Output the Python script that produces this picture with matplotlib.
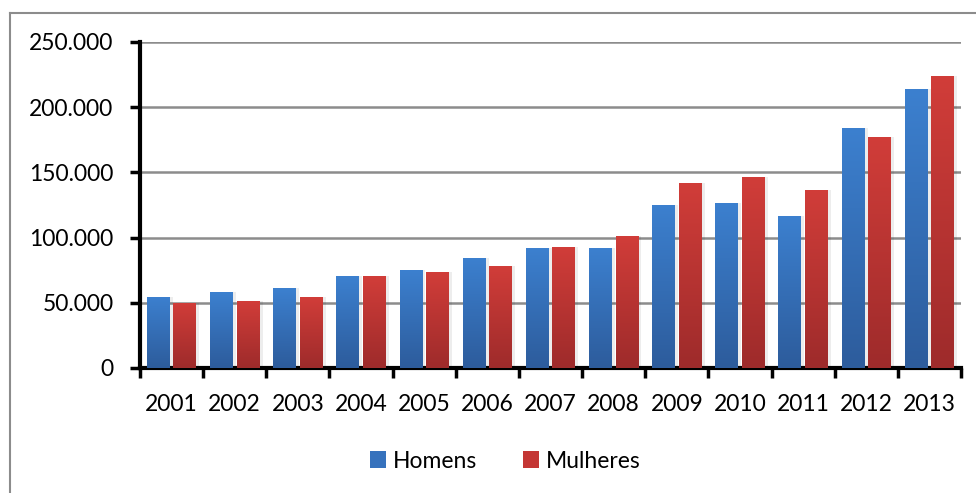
import numpy as np
import matplotlib.pyplot as plt
from matplotlib.lines import Line2D
from matplotlib.patches import Patch
from matplotlib.ticker import FuncFormatter

years = ['2001', '2002', '2003', '2004', '2005', '2006', '2007',
         '2008', '2009', '2010', '2011', '2012', '2013']
homens = [54500, 58200, 61300, 70500, 75100, 84400, 92000,
          92000, 125100, 126600, 116600, 184400, 213600]
mulheres = [50200, 51300, 54400, 70500, 73600, 78200, 93000,
            101300, 142000, 146700, 136600, 177500, 224300]

plt.rcParams['font.family'] = ['Lato', 'DejaVu Sans']
FS = 16.5

fig = plt.figure(figsize=(9.76, 4.93), dpi=100)
ax = fig.add_axes([140 / 976, 1 - 368 / 493, 821 / 976, 326 / 493])

x = np.arange(len(years))
w = 0.36
off = 0.21


def grad_bars(xs, vals, top, bottom):
    bars = ax.bar(xs, vals, w, color='none', zorder=3)
    t = np.linspace(0, 1, 100)[:, None, None]
    top = np.array(plt.matplotlib.colors.to_rgb(top))
    bottom = np.array(plt.matplotlib.colors.to_rgb(bottom))
    img = top[None, None, :] * (1 - t) + bottom[None, None, :] * t
    for b in bars:
        x0, y0 = b.get_x(), b.get_y()
        x1, y1 = x0 + b.get_width(), y0 + b.get_height()
        # soft shadow
        ax.bar(x0 + b.get_width() / 2 + 0.03, b.get_height(), w + 0.04,
               color='#000000', alpha=0.07, zorder=2, linewidth=0)
        im = ax.imshow(img, extent=[x0, x1, y0, y1], aspect='auto', zorder=3,
                       origin='upper')
        im.set_clip_path(b)
    return bars


grad_bars(x - off, homens, '#3c80cf', '#2d5c9c')
grad_bars(x + off, mulheres, '#d13d39', '#9e2b2b')

ax.set_xlim(-0.5, len(years) - 0.5)
ax.set_ylim(0, 250000)
ax.set_yticks(range(0, 250001, 50000))
ax.yaxis.set_major_formatter(FuncFormatter(
    lambda v, p: '0' if v == 0 else f'{int(v):,}'.replace(',', '.')))
ax.grid(axis='y', color='#8c8c8c', linewidth=1.8, zorder=1)
ax.set_axisbelow(True)

ax.set_xticks(x)
ax.set_xticklabels(years)
ax.set_xticks(np.arange(-0.5, len(years)), minor=True)
ax.tick_params(axis='x', which='major', length=0, pad=19, labelsize=FS)
ax.tick_params(axis='x', which='minor', length=7, width=2.5, direction='out')
ax.tick_params(axis='y', length=7, width=2.5, pad=12, labelsize=FS)

for s in ['top', 'right']:
    ax.spines[s].set_visible(False)
for s in ['left', 'bottom']:
    ax.spines[s].set_linewidth(3)

handles = [Patch(facecolor='#3672bd', label='Homens'),
           Patch(facecolor='#c43634', label='Mulheres')]
fig.legend(handles=handles, loc='center', bbox_to_anchor=(505 / 976, 1 - 461 / 493),
           ncol=2, frameon=False, fontsize=FS, handlelength=0.7, handleheight=0.7,
           handletextpad=0.3, columnspacing=2.0)

# outer chart border (left and top visible)
fig.add_artist(Line2D([10 / 976, 10 / 976], [0, 1 - 13 / 493],
                      transform=fig.transFigure, color='#8c8c8c', linewidth=1.5))
fig.add_artist(Line2D([10 / 976, 1], [1 - 13 / 493, 1 - 13 / 493],
                      transform=fig.transFigure, color='#8c8c8c', linewidth=1.5))

fig.savefig('out.png', dpi=100)
